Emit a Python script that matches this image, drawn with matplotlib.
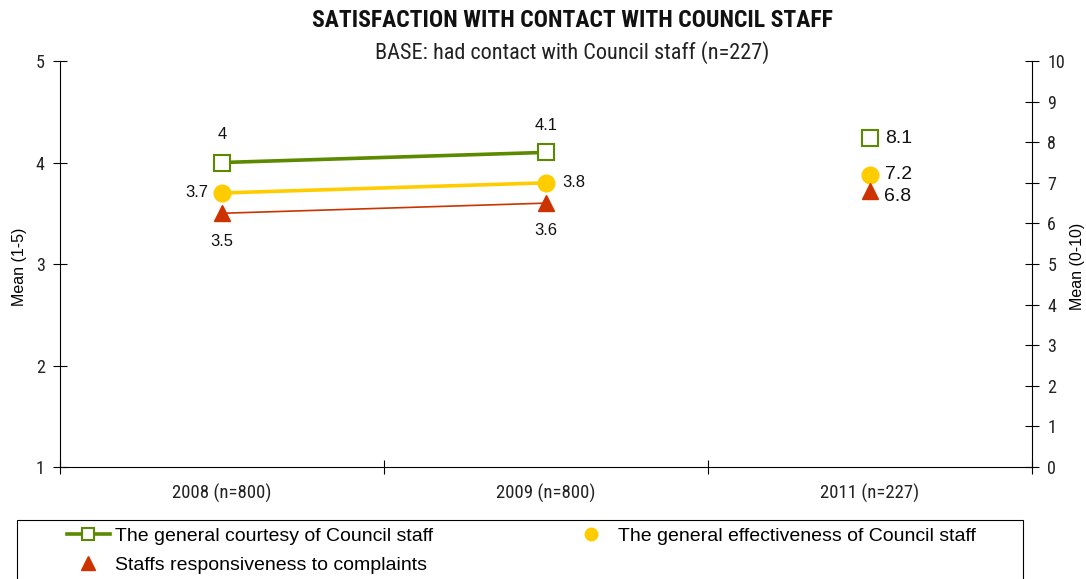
import matplotlib
matplotlib.use('Agg')
import matplotlib.pyplot as plt
from matplotlib.lines import Line2D
from matplotlib.patches import Rectangle

# data
years = ['2008 (n=800)', '2009 (n=800)', '2011 (n=227)']
courtesy = [4.0, 4.1]          # mean (1-5), 2008 and 2009
effectiveness = [3.7, 3.8]
responsiveness = [3.5, 3.6]
new_scores = [8.1, 7.2, 6.8]   # mean (0-10), 2011
series_names = ['The general courtesy of Council staff',
                'The general effectiveness of Council staff',
                'Staffs responsiveness to complaints']

green = '#5b8a00'
yellow = '#ffcc00'
red = '#cc3300'

narrow = ['Roboto Condensed', 'DejaVu Sans']
plain = ['Liberation Sans', 'DejaVu Sans']

fig = plt.figure(figsize=(10.86, 5.79), dpi=100)
ax = fig.add_axes([0.0552, 0.1934, 0.8951, 0.7012])

x_old = [0, 1]
ax.plot(x_old, courtesy, color=green, lw=2.6, marker='s', ms=11,
        mfc='white', mec=green, mew=1.5, zorder=3)
ax.plot(x_old, effectiveness, color=yellow, lw=2.6, marker='o', ms=12,
        mfc=yellow, mec=yellow, zorder=3)
ax.plot(x_old, responsiveness, color=red, lw=1.2, marker='^', ms=12,
        mfc=red, mec=red, zorder=3)

ax.set_xlim(-0.5, 2.5)
ax.set_ylim(1, 5)
ax.set_yticks([1, 2, 3, 4, 5])
ax.set_xticks([-0.5, 0.5, 1.5, 2.5])
ax.set_xticklabels([])
ax.set_xticks([0, 1, 2], minor=True)
ax.set_xticklabels(years, minor=True, family=narrow, fontsize=13.5, color='#222222')
ax.tick_params(axis='x', which='minor', length=0, pad=12)
ax.tick_params(axis='x', which='major', direction='inout', length=10, width=0.8)
ax.tick_params(axis='y', direction='inout', length=10, width=0.8, pad=6)
for t in ax.get_yticklabels():
    t.set_family(narrow)
    t.set_fontsize(13)
    t.set_color('#222222')
ax.spines['top'].set_visible(False)
ax.spines['right'].set_visible(False)

# data labels for 2008 / 2009
lab = dict(family=plain, fontsize=12, color='#111111')
ax.annotate(f'{courtesy[0]:g}', (0, courtesy[0]), xytext=(0, 15), textcoords='offset points', ha='center', va='bottom', **lab)
ax.annotate(f'{courtesy[1]:g}', (1, courtesy[1]), xytext=(0, 14), textcoords='offset points', ha='center', va='bottom', **lab)
ax.annotate(f'{effectiveness[0]:g}', (0, effectiveness[0]), xytext=(-10, 0), textcoords='offset points', ha='right', va='center', **lab)
ax.annotate(f'{effectiveness[1]:g}', (1, effectiveness[1]), xytext=(12, 0), textcoords='offset points', ha='left', va='center', **lab)
ax.annotate(f'{responsiveness[0]:g}', (0, responsiveness[0]), xytext=(0, -15), textcoords='offset points', ha='center', va='top', **lab)
ax.annotate(f'{responsiveness[1]:g}', (1, responsiveness[1]), xytext=(0, -14), textcoords='offset points', ha='center', va='top', **lab)

# right axis 0-10 for 2011
ax2 = ax.twinx()
ax2.set_ylim(0, 10)
ax2.set_yticks(range(0, 11))
ax2.tick_params(axis='y', direction='inout', length=10, width=0.8, pad=6)
for t in ax2.get_yticklabels():
    t.set_family(narrow)
    t.set_fontsize(13)
    t.set_color('#222222')
ax2.spines['top'].set_visible(False)
ax2.spines['left'].set_visible(False)
ax2.spines['bottom'].set_visible(False)

ax2.plot([2], [new_scores[0]], ls='none', marker='s', ms=11, mfc='white', mec=green, mew=1.5)
ax2.plot([2], [new_scores[1]], ls='none', marker='o', ms=12, mfc=yellow, mec=yellow)
ax2.plot([2], [new_scores[2]], ls='none', marker='^', ms=12, mfc=red, mec=red)
big = dict(family=plain, fontsize=14, color='#111111')
ax2.annotate(f'{new_scores[0]:g}', (2, new_scores[0]), xytext=(11, 0), textcoords='offset points', ha='left', va='center', **big)
ax2.annotate(f'{new_scores[1]:g}', (2, new_scores[1]), xytext=(11, 0), textcoords='offset points', ha='left', va='center', **big)
ax2.annotate(f'{new_scores[2]:g}', (2, new_scores[2]), xytext=(10, -4), textcoords='offset points', ha='left', va='center', **big)

fig.text(0.018, 0.54, 'Mean (1-5)', rotation=90, ha='center', va='center', family=plain, fontsize=11.5)
fig.text(0.9926, 0.54, 'Mean (0-10)', rotation=90, ha='center', va='center', family=plain, fontsize=11.5)

fig.text(0.527, 0.965, 'SATISFACTION WITH CONTACT WITH COUNCIL STAFF', ha='center', va='center',
         family=narrow, fontsize=17, fontweight='bold', color='#111111')
fig.text(0.527, 0.91, 'BASE: had contact with Council staff (n=227)', ha='center', va='center',
         family=narrow, fontsize=16, color='#222222')

# legend: frame drawn separately, two blocks of entries
fig.add_artist(Rectangle((17 / 1086, -0.02), (1023 - 17) / 1086, 0.02 + 1 - 520 / 579,
                         transform=fig.transFigure, fill=False, ec='black', lw=0.8, clip_on=False))
leg_kw = dict(loc='upper left', frameon=False, prop={'family': plain, 'size': 14},
              handlelength=2.2, handletextpad=0.25, borderaxespad=0, borderpad=0,
              labelspacing=0.6)
h_courtesy = Line2D([], [], color=green, lw=2.6, marker='s', ms=9, mfc='white', mec=green, mew=1.5)
h_resp = Line2D([], [], ls='none', marker='^', ms=10, mfc=red, mec=red)
h_eff = Line2D([], [], ls='none', marker='o', ms=9, mfc=yellow, mec=yellow)
fig.legend([h_courtesy, h_resp], [series_names[0], series_names[2]],
           bbox_to_anchor=(67 / 1086, 1 - 527 / 579), **leg_kw)
fig.legend([h_eff], [series_names[1]],
           bbox_to_anchor=(570 / 1086, 1 - 527 / 579), **leg_kw)

fig.savefig('out.png', dpi=100)
